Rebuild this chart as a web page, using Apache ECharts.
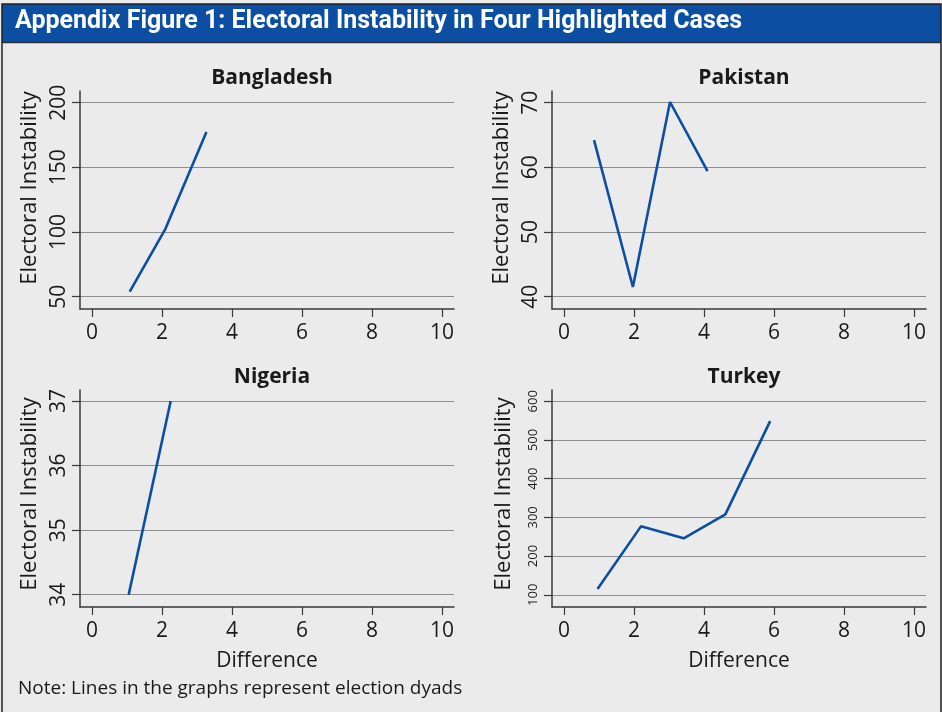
<!DOCTYPE html>
<html>
<head>
<meta charset="utf-8">
<script src="https://cdn.jsdelivr.net/npm/echarts@6/dist/echarts.min.js"></script>
<style>
  html, body { margin: 0; padding: 0; background: #ebebeb; }
  #chart { width: 942px; height: 712px; }
</style>
</head>
<body>
<div id="chart"></div>
<script>
// data
var panelNames = ['Bangladesh', 'Pakistan', 'Nigeria', 'Turkey'];
var xTicks = [0, 2, 4, 6, 8, 10];

var bangladeshX = [1.08, 2.10, 3.27];
var bangladeshY = [53.9, 102.5, 177.3];
var bangladeshTicks = [50, 100, 150, 200];

var pakistanX = [0.86, 1.97, 3.03, 4.10];
var pakistanY = [64.2, 41.5, 70.1, 59.4];
var pakistanTicks = [40, 50, 60, 70];

var nigeriaX = [1.05, 2.25];
var nigeriaY = [34, 37];
var nigeriaTicks = [34, 35, 36, 37];

var turkeyX = [0.96, 2.20, 3.42, 4.61, 5.89];
var turkeyY = [114.7, 276.7, 245.9, 307.6, 548.5];
var turkeyTicks = [100, 200, 300, 400, 500, 600];

var blue = '#0b4ea2';
var axisColor = '#3a3a3a';
var gridColor = '#8e8e8e';
var textColor = '#1a1a1a';
var font = 'Open Sans';

// layout of the 4 panels
var panels = [
  { x: bangladeshX, y: bangladeshY, ticks: bangladeshTicks, min: 40.5, max: 209, left: 80, top: 91, height: 218, xName: '', labelSize: 21, namePad: 24 },
  { x: pakistanX, y: pakistanY, ticks: pakistanTicks, min: 38.1, max: 71.8, left: 552, top: 91, height: 218, xName: '', labelSize: 21, namePad: 24 },
  { x: nigeriaX, y: nigeriaY, ticks: nigeriaTicks, min: 33.81, max: 37.17, left: 80, top: 390, height: 217, xName: 'Difference', labelSize: 21, namePad: 9 },
  { x: turkeyX, y: turkeyY, ticks: turkeyTicks, min: 68.4, max: 629, left: 552, top: 390, height: 217, xName: 'Difference', labelSize: 13, namePad: 9 }
];

var grids = [], xAxes = [], yAxes = [], series = [], titles = [];

panels.forEach(function (p, i) {
  grids.push({ left: p.left, top: p.top, width: 374, height: p.height, containLabel: false });

  titles.push({
    text: panelNames[i],
    left: p.left + 187,
    top: p.top - 28,
    textAlign: 'center',
    textStyle: { fontFamily: font, fontWeight: 'bold', fontSize: 21, color: textColor }
  });

  xAxes.push({
    type: 'value',
    gridIndex: i,
    min: -0.34,
    max: 10.34,
    name: p.xName,
    nameLocation: 'middle',
    nameGap: 44,
    nameTextStyle: { fontFamily: font, fontSize: 21, color: textColor },
    axisLine: { show: true, onZero: false, lineStyle: { color: axisColor, width: 1.5 } },
    axisTick: { show: true, length: 8, customValues: xTicks, lineStyle: { color: axisColor, width: 1.2 } },
    axisLabel: { customValues: xTicks, fontFamily: font, fontSize: 21, color: textColor, margin: 14 },
    splitLine: { show: false }
  });

  yAxes.push({
    type: 'value',
    gridIndex: i,
    min: p.min,
    max: p.max,
    name: 'Electoral Instability',
    nameLocation: 'middle',
    nameGap: p.labelSize > 15 ? 39 : 37,
    nameTextStyle: { fontFamily: font, fontSize: 22, color: textColor, padding: [0, 0, 0, p.namePad] },
    axisLine: { show: true, onZero: false, lineStyle: { color: axisColor, width: 1.5 } },
    axisTick: { show: true, length: 8, customValues: p.ticks, lineStyle: { color: axisColor, width: 1.2 } },
    axisLabel: { customValues: p.ticks, rotate: 90, fontFamily: font, fontSize: p.labelSize, color: textColor, margin: p.labelSize > 15 ? 10 : 12 },
    splitLine: { show: true, lineStyle: { color: gridColor, width: 1.2 } }
  });

  var pts = [];
  for (var k = 0; k < p.x.length; k++) {
    pts.push([p.x[k], p.y[k]]);
  }
  series.push({
    type: 'line',
    xAxisIndex: i,
    yAxisIndex: i,
    data: pts,
    showSymbol: false,
    symbol: 'none',
    silent: true,
    lineStyle: { color: blue, width: 2.6 }
  });
});

var option = {
  backgroundColor: '#ebebeb',
  animation: false,
  title: titles,
  grid: grids,
  xAxis: xAxes,
  yAxis: yAxes,
  series: series,
  graphic: [
    // header bar + frame
    { type: 'rect', shape: { x: 2, y: 4, width: 939, height: 38 }, style: { fill: '#0b4ea2' }, z: 10 },
    { type: 'line', shape: { x1: 2, y1: 42.5, x2: 941, y2: 42.5 }, style: { stroke: '#2a3340', lineWidth: 1.5 }, z: 11 },
    { type: 'rect', shape: { x: 2, y: 4, width: 939, height: 720 }, style: { fill: 'none', stroke: '#222', lineWidth: 1.5 }, z: 11 },
    {
      type: 'text', left: 15, top: 9, z: 12,
      style: { text: 'Appendix Figure 1: Electoral Instability in Four Highlighted Cases', fill: '#fff', font: 'bold 25px Roboto' }
    },
    {
      type: 'text', left: 18, top: 679, z: 12,
      style: { text: 'Note: Lines in the graphs represent election dyads', fill: textColor, font: '19px "Open Sans"' }
    }
  ]
};

var myChart = echarts.init(document.getElementById('chart'));
myChart.setOption(option);
</script>
</body>
</html>
